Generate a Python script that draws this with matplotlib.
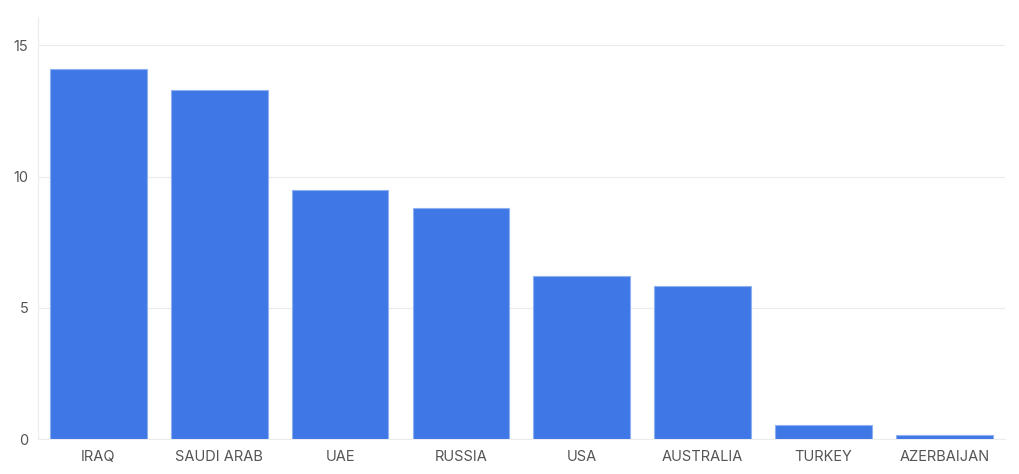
import matplotlib
matplotlib.use('Agg')
import matplotlib.pyplot as plt

countries = ['IRAQ', 'SAUDI ARAB', 'UAE', 'RUSSIA', 'USA', 'AUSTRALIA', 'TURKEY', 'AZERBAIJAN']
values = [14.08, 13.31, 9.49, 8.79, 6.2, 5.85, 0.54, 0.15]
y_ticks = [0, 5, 10, 15]

plt.rcParams['font.family'] = ['Inter', 'DejaVu Sans']

fig = plt.figure(figsize=(10.2, 4.74), dpi=100)
ax = fig.add_axes([0.0373, 0.0732, 0.9477, 0.8909])

ax.bar(range(len(countries)), values, width=0.8, color='#3f78e6',
       edgecolor='#8fb0f0', linewidth=0.8, zorder=3)

ax.set_xlim(-0.5, len(countries) - 0.5)
ax.set_ylim(0, 16.07)
ax.set_yticks(y_ticks)
ax.set_xticks(range(len(countries)))
ax.set_xticklabels(countries)
ax.yaxis.grid(True, color='#ececec', linewidth=0.8, zorder=0)
ax.tick_params(axis='both', length=0, colors='#555555', labelsize=10.5)
ax.tick_params(axis='x', pad=8)
ax.tick_params(axis='y', pad=7)

for side in ['top', 'right']:
    ax.spines[side].set_visible(False)
for side in ['left', 'bottom']:
    ax.spines[side].set_color('#ececec')
    ax.spines[side].set_linewidth(0.8)

fig.savefig('out.png', dpi=100)
